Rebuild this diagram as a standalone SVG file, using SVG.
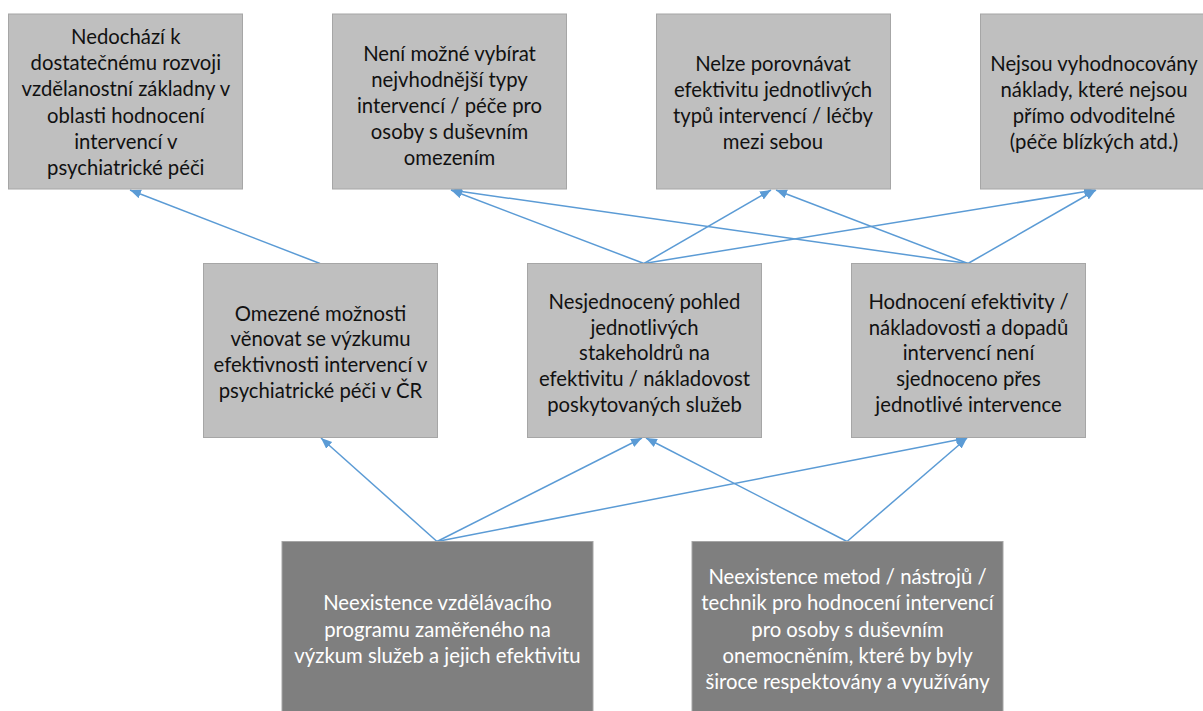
<svg xmlns="http://www.w3.org/2000/svg" width="1203" height="711" viewBox="0 0 1203 711">
<defs>
<style>
.lt{fill:#BFBFBF;stroke:#A6A6A6;stroke-width:1}
.dk{fill:#7F7F7F;stroke:#A6A6A6;stroke-width:1}
text{font-family:Lato,"Liberation Sans",sans-serif;font-size:20.3px;text-anchor:middle}
.tb{fill:#111111}
.tw{fill:#FFFFFF}
.cn line{stroke:#5B9BD5;stroke-width:1.5;fill:none;marker-end:url(#ah)}
</style>
<marker id="ah" markerUnits="userSpaceOnUse" markerWidth="12" markerHeight="10" refX="11" refY="4.5" orient="auto" viewBox="0 0 12 10">
<path d="M0,0 L11,4.5 L0,9 z" fill="#5B9BD5"/>
</marker>
</defs>
<rect width="1203" height="711" fill="#FFFFFF"/>
<g id="connectors" class="cn">
<line x1="320" y1="263.5" x2="130" y2="190"/>
<line x1="644" y1="263.5" x2="451" y2="190"/>
<line x1="644" y1="263.5" x2="771" y2="190"/>
<line x1="644" y1="263.5" x2="1095" y2="190"/>
<line x1="968" y1="263.5" x2="451" y2="190"/>
<line x1="968" y1="263.5" x2="776" y2="190"/>
<line x1="968" y1="263.5" x2="1096" y2="190"/>
<line x1="437" y1="541.5" x2="321" y2="438"/>
<line x1="437" y1="541.5" x2="642" y2="438"/>
<line x1="437" y1="541.5" x2="967" y2="438"/>
<line x1="847" y1="541.5" x2="646" y2="438"/>
<line x1="847" y1="541.5" x2="967" y2="438"/>
</g>
<g id="t1">
<rect class="lt" x="8.5" y="14" width="234" height="175"/>
<text class="tb"><tspan x="125.8" y="44">Nedochází k</tspan><tspan x="125.8" y="70.2">dostatečnému rozvoji</tspan><tspan x="125.8" y="96.4">vzdělanostní základny v</tspan><tspan x="125.8" y="122.6">oblasti hodnocení</tspan><tspan x="125.8" y="148.8">intervencí v</tspan><tspan x="125.8" y="175">psychiatrické péči</tspan></text>
</g>
<g id="t2">
<rect class="lt" x="332.5" y="14" width="234" height="175"/>
<text class="tb"><tspan x="449.5" y="60.5">Není možné vybírat</tspan><tspan x="449.5" y="86.7">nejvhodnější typy</tspan><tspan x="449.5" y="112.9">intervencí / péče pro</tspan><tspan x="449.5" y="139.1">osoby s duševním</tspan><tspan x="449.5" y="165.3">omezením</tspan></text>
</g>
<g id="t3">
<rect class="lt" x="656.5" y="14" width="234" height="175"/>
<text class="tb"><tspan x="773" y="70.5">Nelze porovnávat</tspan><tspan x="773" y="96.7">efektivitu jednotlivých</tspan><tspan x="773" y="122.9">typů intervencí / léčby</tspan><tspan x="773" y="149.1">mezi sebou</tspan></text>
</g>
<g id="t4">
<rect class="lt" x="980.5" y="14" width="234" height="175"/>
<text class="tb"><tspan x="1094" y="70.5">Nejsou vyhodnocovány</tspan><tspan x="1094" y="96.7">náklady, které nejsou</tspan><tspan x="1094" y="122.9">přímo odvoditelné</tspan><tspan x="1094" y="149.1">(péče blízkých atd.)</tspan></text>
</g>
<g id="m1">
<rect class="lt" x="203.5" y="263.5" width="234" height="174"/>
<text class="tb"><tspan x="320.5" y="320.5">Omezené možnosti</tspan><tspan x="320.5" y="346.3">věnovat se výzkumu</tspan><tspan x="320.5" y="372.1">efektivnosti intervencí v</tspan><tspan x="320.5" y="397.9">psychiatrické péči v ČR</tspan></text>
</g>
<g id="m2">
<rect class="lt" x="527.5" y="263.5" width="234" height="174"/>
<text class="tb"><tspan x="644.5" y="308.7">Nesjednocený pohled</tspan><tspan x="644.5" y="334.5">jednotlivých</tspan><tspan x="644.5" y="360.3">stakeholdrů na</tspan><tspan x="644.5" y="386.1">efektivitu / nákladovost</tspan><tspan x="644.5" y="411.9">poskytovaných služeb</tspan></text>
</g>
<g id="m3">
<rect class="lt" x="851.5" y="263.5" width="234" height="174"/>
<text class="tb"><tspan x="968.5" y="308.7">Hodnocení efektivity /</tspan><tspan x="968.5" y="334.5">nákladovosti a dopadů</tspan><tspan x="968.5" y="360.3">intervencí není</tspan><tspan x="968.5" y="386.1">sjednoceno přes</tspan><tspan x="968.5" y="411.9">jednotlivé intervence</tspan></text>
</g>
<g id="b1">
<rect class="dk" x="282" y="541.5" width="311" height="180"/>
<text class="tw"><tspan x="437.5" y="610.3">Neexistence vzdělávacího</tspan><tspan x="437.5" y="636.6">programu zaměřeného na</tspan><tspan x="437.5" y="662.9">výzkum služeb a jejich efektivitu</tspan></text>
</g>
<g id="b2">
<rect class="dk" x="692" y="541.5" width="311" height="180"/>
<text class="tw"><tspan x="847.5" y="583.8">Neexistence metod / nástrojů /</tspan><tspan x="847.5" y="610.3">technik pro hodnocení intervencí</tspan><tspan x="847.5" y="636.6">pro osoby s duševním</tspan><tspan x="847.5" y="662.9">onemocněním, které by byly</tspan><tspan x="847.5" y="689.2">široce respektovány a využívány</tspan></text>
</g>
</svg>
